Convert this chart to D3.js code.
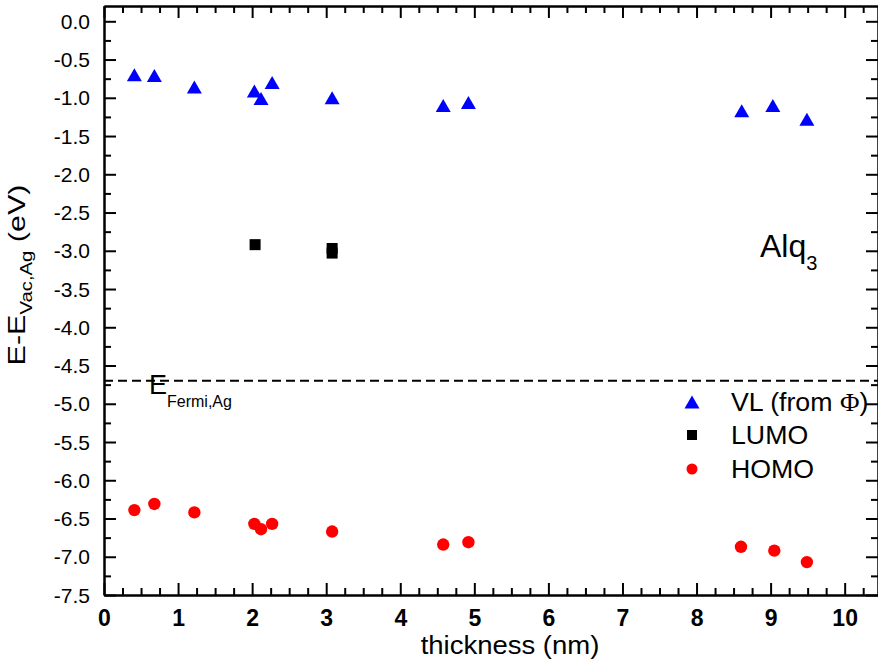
<!DOCTYPE html>
<html>
<head>
<meta charset="utf-8">
<script src="https://cdn.jsdelivr.net/npm/d3@7"></script>
<style>
  html, body { margin: 0; padding: 0; background: #fff; }
  svg { display: block; font-family: "Liberation Sans", Arial, Helvetica, sans-serif; }
</style>
</head>
<body>
<svg id="chart" width="878" height="661"></svg>
<script>
// Vacuum level (from work function), LUMO and HOMO of Alq3 on Ag versus film thickness
const vlThickness   = [0.41, 0.68, 1.22, 2.03, 2.12, 2.27, 3.08, 4.58, 4.92, 8.61, 9.03, 9.49];
const vlEnergy      = [-0.70, -0.71, -0.86, -0.91, -1.01, -0.80, -1.00, -1.10, -1.06, -1.17, -1.10, -1.28];
const lumoThickness = [2.04, 3.08, 3.08];
const lumoEnergy    = [-2.92, -2.97, -3.03];
const homoThickness = [0.41, 0.68, 1.22, 2.03, 2.12, 2.27, 3.08, 4.58, 4.92, 8.60, 9.05, 9.49];
const homoEnergy    = [-6.39, -6.31, -6.42, -6.57, -6.64, -6.57, -6.67, -6.84, -6.81, -6.87, -6.92, -7.07];
const fermiLevel    = -4.7;
const xTicks        = [0, 1, 2, 3, 4, 5, 6, 7, 8, 9, 10];
const yTicks        = [0.0, -0.5, -1.0, -1.5, -2.0, -2.5, -3.0, -3.5, -4.0, -4.5, -5.0, -5.5, -6.0, -6.5, -7.0, -7.5];
const legendLabels  = ["VL (from \u03A6)", "LUMO", "HOMO"];

const svg = d3.select("#chart");
const plotLeft = 104, plotRight = 878, plotTop = 6, plotBottom = 595;

const x = d3.scaleLinear().domain([0, 10.45]).range([plotLeft, plotRight]);
const y = d3.scaleLinear().domain([-7.5, 0.2]).range([plotBottom, plotTop]);

const xMinor = d3.range(0, 10.45, 0.25).filter(v => Math.abs(v - Math.round(v)) > 1e-6);
const yMinor = d3.range(-7.5, 0.2, 0.25).filter(v => Math.abs(v * 2 - Math.round(v * 2)) > 1e-6);

const majorLen = 12, minorLen = 7;
const fmtY = v => v.toFixed(1);

function styleAxis(g) {
  g.select(".domain").attr("stroke", "#000").attr("stroke-width", 2);
  g.selectAll(".tick line").attr("stroke", "#000").attr("stroke-width", 2);
}

// bottom axis
svg.append("g").attr("transform", `translate(0,${plotBottom})`)
  .call(d3.axisBottom(x).tickValues(xMinor).tickSize(-minorLen).tickFormat("").tickSizeOuter(0))
  .call(styleAxis);
const bx = svg.append("g").attr("transform", `translate(0,${plotBottom})`)
  .call(d3.axisBottom(x).tickValues(xTicks).tickSize(-majorLen).tickSizeOuter(0).tickPadding(0))
  .call(styleAxis);
bx.selectAll(".tick text").attr("y", 31).attr("dy", 0)
  .attr("font-size", 23).attr("font-weight", "bold").attr("fill", "#000")
  .attr("font-family", "'Liberation Sans', Arial, sans-serif");

// top axis
svg.append("g").attr("transform", `translate(0,${plotTop})`)
  .call(d3.axisTop(x).tickValues(xMinor).tickSize(-minorLen).tickFormat("").tickSizeOuter(0))
  .call(styleAxis);
svg.append("g").attr("transform", `translate(0,${plotTop})`)
  .call(d3.axisTop(x).tickValues(xTicks).tickSize(-majorLen).tickFormat("").tickSizeOuter(0))
  .call(styleAxis);

// left axis
svg.append("g").attr("transform", `translate(${plotLeft},0)`)
  .call(d3.axisLeft(y).tickValues(yMinor).tickSize(-minorLen).tickFormat("").tickSizeOuter(0))
  .call(styleAxis);
const ly = svg.append("g").attr("transform", `translate(${plotLeft},0)`)
  .call(d3.axisLeft(y).tickValues(yTicks).tickSize(-majorLen).tickFormat(fmtY).tickSizeOuter(0))
  .call(styleAxis);
ly.selectAll(".tick text").attr("x", -14).attr("dy", "0.34em")
  .attr("font-size", 21).attr("fill", "#000")
  .attr("font-family", "'Liberation Sans', Arial, sans-serif");

// right axis
svg.append("g").attr("transform", `translate(${plotRight},0)`)
  .call(d3.axisRight(y).tickValues(yMinor).tickSize(-minorLen).tickFormat("").tickSizeOuter(0))
  .call(styleAxis);
svg.append("g").attr("transform", `translate(${plotRight},0)`)
  .call(d3.axisRight(y).tickValues(yTicks).tickSize(-majorLen).tickFormat("").tickSizeOuter(0))
  .call(styleAxis);

// axis titles (set slightly wide)
svg.append("text")
  .attr("transform", "translate(510,654) scale(1.1,1)")
  .attr("text-anchor", "middle").attr("font-size", 25)
  .text("thickness (nm)");

const yt = svg.append("text")
  .attr("transform", "translate(25,275) rotate(-90) scale(1.27,1)")
  .attr("text-anchor", "middle").attr("font-size", 24);
yt.append("tspan").text("E-E");
yt.append("tspan").attr("font-size", 16).attr("dy", 7).text("Vac,Ag");
yt.append("tspan").attr("dy", -7).text(" (eV)");

// Fermi level of Ag
svg.append("line")
  .attr("x1", plotLeft).attr("x2", plotRight)
  .attr("y1", y(fermiLevel)).attr("y2", y(fermiLevel))
  .attr("stroke", "#000").attr("stroke-width", 2)
  .attr("stroke-dasharray", "9,5");
const ft = svg.append("text").attr("x", 149).attr("y", y(fermiLevel) + 13).attr("font-size", 27);
ft.append("tspan").text("E");
ft.append("tspan").attr("font-size", 16).attr("dy", 13).text("Fermi,Ag");

// material label
const mt = svg.append("text").attr("x", 760).attr("y", 257).attr("font-size", 32);
mt.append("tspan").text("Alq");
mt.append("tspan").attr("font-size", 20).attr("dy", 13).text("3");

// marker shapes
const triPath = (cx, cy) => {
  const w = 15, h = 13;
  return `M${cx - w / 2},${cy + h / 2}L${cx + w / 2},${cy + h / 2}L${cx},${cy - h / 2}Z`;
};

svg.append("g").selectAll("path")
  .data(d3.zip(vlThickness, vlEnergy))
  .join("path")
  .attr("d", d => triPath(x(d[0]), y(d[1])))
  .attr("fill", "#0000ff");

svg.append("g").selectAll("rect")
  .data(d3.zip(lumoThickness, lumoEnergy))
  .join("rect")
  .attr("x", d => x(d[0]) - 5.5).attr("y", d => y(d[1]) - 5.5)
  .attr("width", 11).attr("height", 11)
  .attr("fill", "#000");

svg.append("g").selectAll("circle")
  .data(d3.zip(homoThickness, homoEnergy))
  .join("circle")
  .attr("cx", d => x(d[0])).attr("cy", d => y(d[1]))
  .attr("r", 6.2)
  .attr("fill", "#ff0000");

// legend
const legend = svg.append("g");
const legY = [402, 435, 469];
legend.append("path").attr("d", triPath(692, legY[0])).attr("fill", "#0000ff");
legend.append("rect").attr("x", 692 - 5).attr("y", legY[1] - 5).attr("width", 10).attr("height", 10).attr("fill", "#000");
legend.append("circle").attr("cx", 692).attr("cy", legY[2]).attr("r", 5.5).attr("fill", "#ff0000");
legendLabels.forEach((t, i) => {
  const tx = legend.append("text")
    .attr("transform", `translate(731,${legY[i] + 9}) scale(1.07,1)`)
    .attr("font-size", 25);
  if (i === 0) {
    tx.append("tspan").text("VL (from ");
    tx.append("tspan").attr("font-family", "'Liberation Serif', 'DejaVu Serif', serif").text("\u03A6");
    tx.append("tspan").text(")");
  } else {
    tx.text(t);
  }
});
</script>
</body>
</html>
